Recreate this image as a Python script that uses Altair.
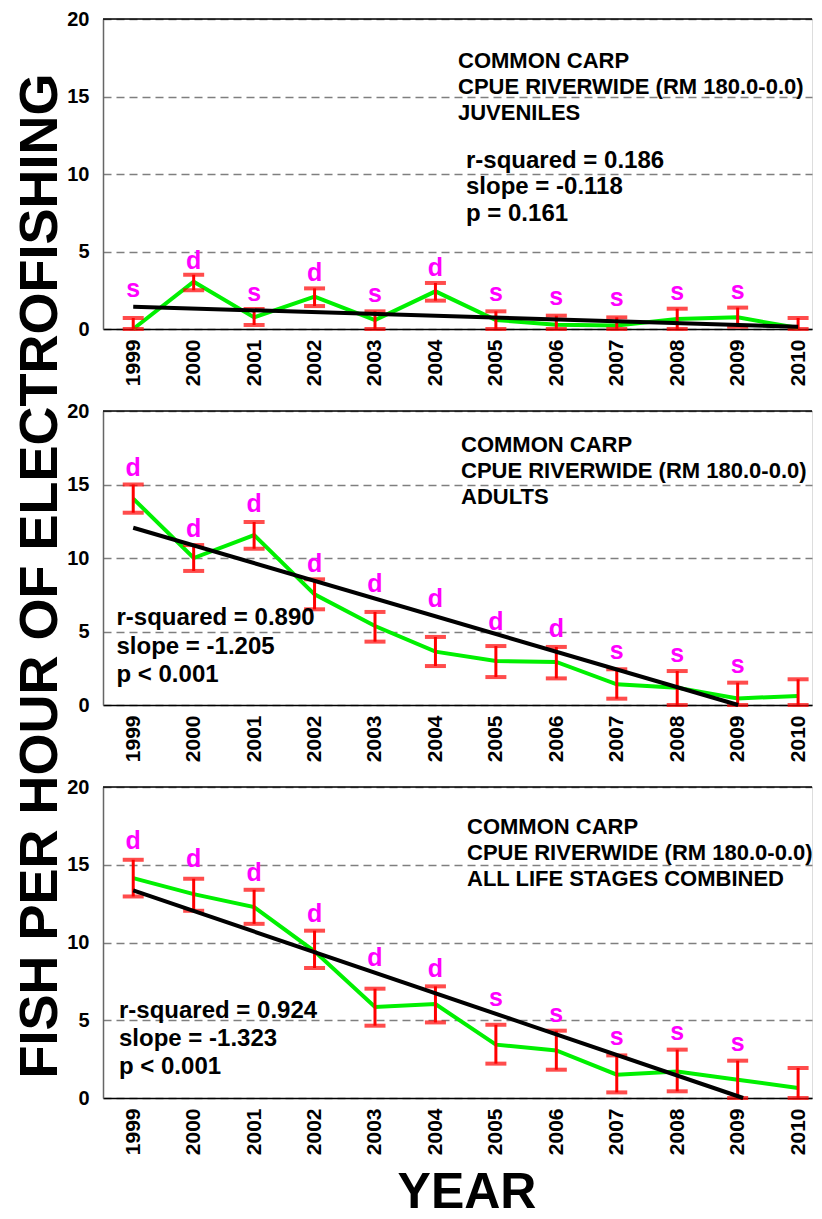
import altair as alt
import pandas as pd

FONT = "Liberation Sans"

years = list(range(1999, 2011))

# Juveniles
juv_cpue = [0.0, 3.05, 0.75, 2.09, 0.58, 2.43, 0.58, 0.28, 0.22, 0.65, 0.75, 0.06]
juv_upper = [0.71, 3.5, 1.29, 2.62, 1.14, 2.97, 1.14, 0.86, 0.75, 1.31, 1.38, 0.71]
juv_lower = [0.0, 2.5, 0.26, 1.48, 0.0, 1.83, 0.0, 0.0, 0.0, 0.0, 0.15, 0.0]
juv_letters = ["s", "d", "s", "d", "s", "d", "s", "s", "s", "s", "s", ""]
juv_letter_y = [2.05, 3.9, 1.83, 3.1, 1.77, 3.4, 1.81, 1.56, 1.46, 1.88, 1.92, 0]
juv_intercept = 1.44
juv_slope = -0.118
juv_title = ["COMMON CARP", "CPUE RIVERWIDE (RM 180.0-0.0)", "JUVENILES"]
juv_stats = ["r-squared = 0.186", "slope = -0.118", "p = 0.161"]

# Adults
ad_cpue = [14.04, 10.0, 11.56, 7.53, 5.37, 3.63, 2.99, 2.93, 1.41, 1.18, 0.45, 0.61]
ad_upper = [15.0, 10.88, 12.45, 8.55, 6.33, 4.63, 4.01, 3.95, 2.43, 2.31, 1.52, 1.75]
ad_lower = [13.08, 9.12, 10.63, 6.51, 4.31, 2.65, 1.9, 1.81, 0.43, 0.0, 0.0, 0.0]
ad_letters = ["d", "d", "d", "d", "d", "d", "d", "d", "s", "s", "s", ""]
ad_letter_y = [15.6, 11.41, 13.11, 9.03, 7.67, 6.65, 5.11, 4.61, 3.12, 2.94, 2.15, 0]
ad_intercept = 12.06
ad_slope = -1.205
ad_title = ["COMMON CARP", "CPUE RIVERWIDE (RM 180.0-0.0)", "ADULTS"]
ad_stats = ["r-squared = 0.890", "slope = -1.205", "p < 0.001"]

# All life stages combined
all_cpue = [14.14, 13.11, 12.28, 9.43, 5.85, 6.04, 3.43, 3.06, 1.5, 1.71, 1.18, 0.64]
all_upper = [15.32, 14.1, 13.39, 10.76, 7.03, 7.18, 4.71, 4.33, 2.74, 3.11, 2.4, 1.93]
all_lower = [12.96, 12.04, 11.2, 8.36, 4.65, 4.86, 2.21, 1.82, 0.36, 0.43, 0.0, 0.0]
all_letters = ["d", "d", "d", "d", "d", "d", "s", "s", "s", "s", "s", ""]
all_letter_y = [16.0, 14.86, 13.96, 11.33, 8.46, 7.75, 5.89, 4.88, 3.38, 3.7, 3.02, 0]
all_intercept = 13.35
all_slope = -1.323
all_title = ["COMMON CARP", "CPUE RIVERWIDE (RM 180.0-0.0)", "ALL LIFE STAGES COMBINED"]
all_stats = ["r-squared = 0.924", "slope = -1.323", "p < 0.001"]

y_ticks = [0, 5, 10, 15, 20]

W = 709
xscale = alt.Scale(domain=[1998.5, 2010.23], nice=False, zero=False)
yscale = alt.Scale(domain=[0, 20], nice=False, zero=True)

xaxis = alt.Axis(values=years, format="d", labelAngle=270, labelFontSize=21,
                 labelFontWeight="bold", labelFont=FONT, labelColor="black",
                 labelPadding=10, ticks=False, grid=False, domainColor="black",
                 domainWidth=1.5, title=None, labelOverlap=False)
yaxis = alt.Axis(values=y_ticks, grid=True, gridDash=[8, 5], gridColor="#7f7f7f",
                 gridWidth=1.3, ticks=False, labelFontSize=20, labelFontWeight="bold",
                 labelFont=FONT, labelColor="black", labelPadding=14,
                 domainColor="#666666", domainWidth=1.5, title=None)


def X(field):
    return alt.X(f"{field}:Q", scale=xscale, axis=xaxis)


def Y(field):
    return alt.Y(f"{field}:Q", scale=yscale, axis=yaxis)


def panel(cpue, upper, lower, letters, letter_y, intercept, slope, title_lines,
          stats_lines, h, tpos, spos, slh, extra=None):
    df = pd.DataFrame({"year": years, "cpue": cpue, "upper": upper, "lower": lower})
    ldf = pd.DataFrame({"year": years, "letter": letters, "ly": letter_y})
    ldf = ldf[ldf["letter"] != ""]
    x_end = min(2010.0, 1999 + intercept / -slope)
    tdf = pd.DataFrame({"year": [1999.0, x_end],
                        "trend": [intercept, intercept + slope * (x_end - 1999)]})

    base = alt.Chart(df)
    green = base.mark_line(color="#00f000", strokeWidth=4).encode(x=X("year"), y=Y("cpue"))
    bars = base.mark_rule(color="#ff0000", strokeWidth=3).encode(
        x=X("year"), y=Y("lower"), y2="upper:Q")
    cap_top = base.mark_tick(color="#ff0000", thickness=4, size=21, orient="horizontal").encode(
        x=X("year"), y=Y("upper"))
    cap_bot = base.mark_tick(color="#ff0000", thickness=4, size=21, orient="horizontal").encode(
        x=X("year"), y=Y("lower"))
    trend = alt.Chart(tdf).mark_line(color="black", strokeWidth=4).encode(
        x=X("year"), y=Y("trend"))
    lett = alt.Chart(ldf).mark_text(color="#ff00ff", fontSize=25, fontWeight="bold",
                                    font=FONT, baseline="alphabetic", align="center").encode(
        x=X("year"), y=Y("ly"), text="letter:N")
    one = alt.Chart(pd.DataFrame({"a": [0]}))
    border = one.mark_rule(color="black", strokeWidth=1.5).encode(
        x=alt.value(0), x2=alt.value(W), y=alt.value(0))
    ttl = one.mark_text(text=title_lines, fontSize=22, fontWeight="bold", font=FONT,
                        align="left", baseline="alphabetic", lineHeight=26,
                        color="black").encode(x=alt.value(tpos[0]), y=alt.value(tpos[1]))
    sts = one.mark_text(text=stats_lines, fontSize=24, fontWeight="bold", font=FONT,
                        align="left", baseline="alphabetic", lineHeight=slh,
                        color="black").encode(x=alt.value(spos[0]), y=alt.value(spos[1]))
    layers = [green, bars, cap_top, cap_bot, trend, lett, border, ttl, sts]
    if extra is not None:
        layers.append(extra)
    return alt.layer(*layers).properties(width=W, height=h)


one = alt.Chart(pd.DataFrame({"a": [0]}))
ytitle = one.mark_text(text="FISH PER HOUR OF ELECTROFISHING", fontSize=54, fontWeight="bold",
                       font=FONT, angle=270, align="center", baseline="alphabetic",
                       color="black").encode(x=alt.value(-46), y=alt.value(165))
xtitle = one.mark_text(text="YEAR", fontSize=50, fontWeight="bold", font=FONT,
                       align="center", baseline="alphabetic", color="black").encode(
    x=alt.value(364), y=alt.value(421))

p1 = panel(juv_cpue, juv_upper, juv_lower, juv_letters, juv_letter_y, juv_intercept,
           juv_slope, juv_title, juv_stats, 310, (355, 48.5), (363, 148.5), 26.7)
p2 = panel(ad_cpue, ad_upper, ad_lower, ad_letters, ad_letter_y, ad_intercept,
           ad_slope, ad_title, ad_stats, 294, (358, 41), (13.5, 214.3), 28.3, extra=ytitle)
p3 = panel(all_cpue, all_upper, all_lower, all_letters, all_letter_y, all_intercept,
           all_slope, all_title, all_stats, 311, (364, 47.3), (16, 230.7), 28.3, extra=xtitle)

chart = alt.vconcat(p1, p2, p3, spacing=82, bounds="flush").properties(
    padding={"left": 5, "top": 0, "right": 0, "bottom": 0}
).configure_view(stroke=None).configure(font=FONT, background="white")

chart.save("out.html", embed_options={"renderer": "svg", "actions": False})
